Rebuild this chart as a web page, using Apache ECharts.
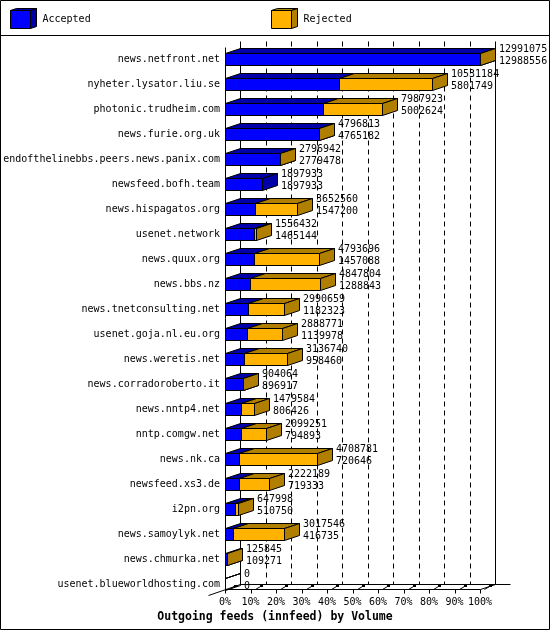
<!DOCTYPE html>
<html><head><meta charset="utf-8">
<script src="https://cdn.jsdelivr.net/npm/echarts@6/dist/echarts.min.js"></script>
<style>html,body{margin:0;padding:0;background:#fff}#c{width:550px;height:630px}</style>
</head><body><div id="c"></div>
<script>
const hosts = ['news.netfront.net','nyheter.lysator.liu.se','photonic.trudheim.com','news.furie.org.uk','endofthelinebbs.peers.news.panix.com','newsfeed.bofh.team','news.hispagatos.org','usenet.network','news.quux.org','news.bbs.nz','news.tnetconsulting.net','usenet.goja.nl.eu.org','news.weretis.net','news.corradoroberto.it','news.nntp4.net','nntp.comgw.net','news.nk.ca','newsfeed.xs3.de','i2pn.org','news.samoylyk.net','news.chmurka.net','usenet.blueworldhosting.com'];
const offered = [12991075,10531184,7987923,4796813,2796942,1897933,3652560,1556432,4793696,4847804,2990659,2888771,3136740,904064,1479584,2099251,4708781,2222189,647998,3017546,125845,0];
const accepted = [12988556,5801749,5002624,4765182,2779478,1897933,1547200,1465144,1457088,1288843,1182323,1139978,958460,896917,806426,794893,720646,719333,510750,416735,109271,0];
const tickLabels = ['0%','10%','20%','30%','40%','50%','60%','70%','80%','90%','100%'];

const FONT = 'DejaVu Sans Mono';
const maxVal = Math.max.apply(null, offered);
const D = 15, H = 5;
const BLUE = '#0000FF', BLUE_D = '#0000A8', ORANGE = '#FFB200', ORANGE_D = '#B07F00';
const snap = v => Math.round(v) + 0.5;

function bar3d(x0, x1, c, front, dark, drawSide, empty) {
  const yT = snap(c - 6), yB = snap(c + 6), X0 = snap(x0), X1 = snap(x1);
  const st = (f) => ({fill: empty ? 'none' : f, stroke: '#000', lineWidth: 1});
  const ch = [
    {type: 'polygon', shape: {points: [[X0, yT], [X1, yT], [X1 + D, yT - H], [X0 + D, yT - H]]}, style: st(dark)},
    {type: 'rect', shape: {x: X0, y: yT, width: X1 - X0, height: yB - yT}, style: st(front)}
  ];
  if (drawSide) ch.push({type: 'polygon', shape: {points: [[X1, yT], [X1 + D, yT - H], [X1 + D, yB - H], [X1, yB]]}, style: st(dark)});
  return ch;
}

const accData = hosts.map((h, i) => [accepted[i], i]);
const rejData = hosts.map((h, i) => [offered[i], i, accepted[i]]);

const chart = echarts.init(document.getElementById('c'), null, {renderer: 'canvas'});
chart.setOption({
  animation: false,
  backgroundColor: '#fff',
  title: {text: 'Outgoing feeds (innfeed) by Volume', left: 'center', top: 611, padding: 0,
    textStyle: {fontFamily: FONT, fontWeight: 'bold', fontSize: 11.5, color: '#000'}},
  legend: [
    {data: ['Accepted'], left: 10, top: 10, itemWidth: 20, itemHeight: 18, icon: 'rect', padding: 0,
     itemStyle: {borderColor: '#000', borderWidth: 1},
     textStyle: {fontFamily: FONT, fontSize: 10, color: '#000', padding: [2, 0, 0, 7]}},
    {data: ['Rejected'], left: 271, top: 10, itemWidth: 20, itemHeight: 18, icon: 'rect', padding: 0,
     itemStyle: {borderColor: '#000', borderWidth: 1},
     textStyle: {fontFamily: FONT, fontSize: 10, color: '#000', padding: [2, 0, 0, 7]}}
  ],
  grid: {left: 225, top: 46.5, width: 255, height: 550, containLabel: false},
  xAxis: {type: 'value', min: 0, max: maxVal, interval: maxVal / 10,
    axisLine: {show: false}, axisTick: {show: false}, splitLine: {show: false},
    axisLabel: {margin: 1, fontFamily: FONT, fontSize: 10, color: '#000',
      formatter: (v, idx) => tickLabels[Math.round(v / maxVal * 10)]}},
  yAxis: {type: 'category', inverse: true, data: hosts,
    axisLine: {show: false}, axisTick: {show: false}, splitLine: {show: false},
    axisLabel: {margin: 5, fontFamily: FONT, fontSize: 10, color: '#000'}},
  graphic: [
    {type: 'rect', shape: {x: 0.5, y: 0.5, width: 549, height: 629}, style: {fill: 'none', stroke: '#000', lineWidth: 1}, z: 100},
    {type: 'line', shape: {x1: 0, y1: 35.5, x2: 550, y2: 35.5}, style: {stroke: '#000', lineWidth: 1}, z: 100},
    {type: 'polygon', shape: {points: [[10.5, 10.5], [30.5, 10.5], [36.5, 8.5], [16.5, 8.5]]}, style: {fill: BLUE_D, stroke: '#000'}, z: 100},
    {type: 'polygon', shape: {points: [[30.5, 10.5], [36.5, 8.5], [36.5, 26.5], [30.5, 28.5]]}, style: {fill: BLUE_D, stroke: '#000'}, z: 100},
    {type: 'polygon', shape: {points: [[271.5, 10.5], [291.5, 10.5], [297.5, 8.5], [277.5, 8.5]]}, style: {fill: ORANGE_D, stroke: '#000'}, z: 100},
    {type: 'polygon', shape: {points: [[291.5, 10.5], [297.5, 8.5], [297.5, 26.5], [291.5, 28.5]]}, style: {fill: ORANGE_D, stroke: '#000'}, z: 100}
  ],
  series: [
    {type: 'custom', name: 'frame', silent: true, data: [[0, 0]], legendHoverLink: false,
     renderItem: function (params, api) {
       const cs = params.coordSys;
       const top = cs.y - 6, floorF = cs.y + cs.height - 7.5;
       const ch = [];
       const L = (x1, y1, x2, y2, dash) => ch.push({type: 'line', shape: {x1, y1, x2, y2}, style: {stroke: '#000', lineWidth: 1, lineDash: dash || null}});
       for (let k = 0; k <= 10; k++) {
         const fx = api.coord([k * maxVal / 10, 0])[0];
         const bx = snap(fx + D);
         L(bx, snap(top), bx, snap(floorF - H), (k === 0 || k === 10) ? null : [5, 4]);
         const sx = snap(fx);
         L(sx, snap(floorF), sx, snap(floorF) + 4);
         L(sx + 4, snap(floorF), sx + 9, snap(floorF) - 3);
         ch.push({type: 'rect', shape: {x: Math.round(fx) + 9, y: Math.round(floorF) - 4, width: 3, height: 2}, style: {fill: '#000'}});
       }
       const x0 = api.coord([0, 0])[0], x1 = api.coord([maxVal, 0])[0];
       L(snap(x0), snap(cs.y), snap(x0), snap(floorF));
       L(snap(x0), snap(floorF), snap(x1), snap(floorF));
       L(snap(x0 + D), snap(floorF - H), snap(x1 + 2 * D), snap(floorF - H));
       L(snap(x0 - 17), snap(floorF + 6), snap(x0 + D), snap(floorF - H));
       L(snap(x1), snap(floorF), snap(x1 + D), snap(floorF - H));
       return {type: 'group', children: ch};
     }},
    {type: 'custom', name: 'Accepted', itemStyle: {color: BLUE}, data: accData,
     renderItem: function (params, api) {
       const v = api.value(0);
       const s = api.coord([0, api.value(1)]);
       const e = api.coord([v, api.value(1)]);
       return {type: 'group', children: bar3d(s[0], e[0], s[1], BLUE, BLUE_D, true, v <= 0)};
     }},
    {type: 'custom', name: 'Rejected', itemStyle: {color: ORANGE}, data: rejData,
     renderItem: function (params, api) {
       const i = api.value(1);
       const s = api.coord([api.value(2), i]);
       const e = api.coord([api.value(0), i]);
       const c = e[1];
       let ch = [];
       if (api.value(0) - api.value(2) > 0) ch = bar3d(s[0], e[0], c, ORANGE, ORANGE_D, true, false);
       const tx = Math.round(e[0]) + 19;
       const ts = {fontFamily: FONT, fontSize: 10, fill: '#000', align: 'left', verticalAlign: 'middle'};
       ch.push({type: 'text', x: tx, y: c - 10, style: Object.assign({text: String(offered[i])}, ts)});
       ch.push({type: 'text', x: tx, y: c + 2, style: Object.assign({text: String(accepted[i])}, ts)});
       return {type: 'group', children: ch};
     }}
  ]
});
</script></body></html>
